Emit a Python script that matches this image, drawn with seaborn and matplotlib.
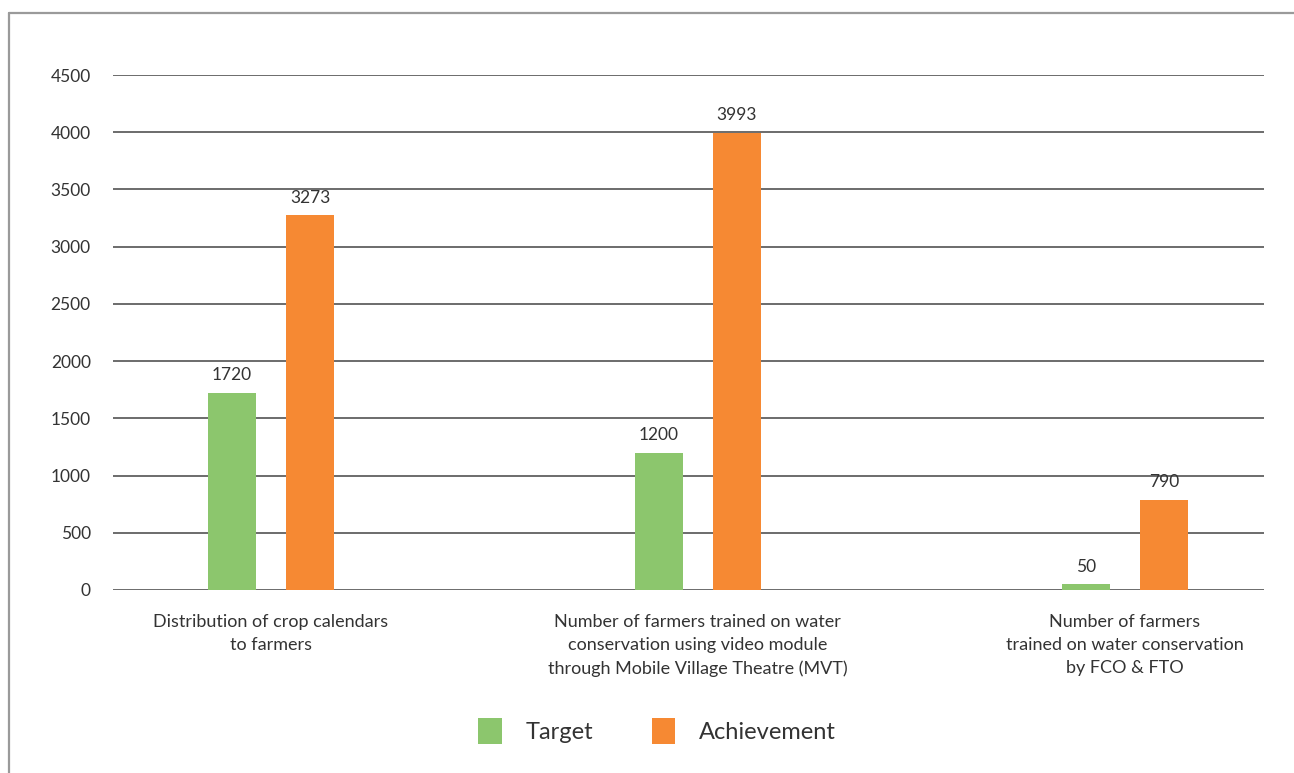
import matplotlib
matplotlib.use("Agg")
import matplotlib.pyplot as plt
from matplotlib.lines import Line2D
from matplotlib.patches import Patch
import seaborn as sns
import pandas as pd

categories = [
    "Distribution of crop calendars\nto farmers",
    "Number of farmers trained on water\nconservation using video module\nthrough Mobile Village Theatre (MVT)",
    "Number of farmers\ntrained on water conservation\nby FCO & FTO",
]
series_names = ["Target", "Achievement"]
target = [1720, 1200, 50]
achievement = [3273, 3993, 790]
yticks = [0, 500, 1000, 1500, 2000, 2500, 3000, 3500, 4000, 4500]
colors = ["#8CC66D", "#F68933"]

df = pd.DataFrame({
    "category": categories * 2,
    "series": [series_names[0]] * 3 + [series_names[1]] * 3,
    "value": target + achievement,
})

sns.set_theme(style="white")
plt.rcParams["font.family"] = ["Lato", "DejaVu Sans"]
text_color = "#333333"

fig = plt.figure(figsize=(12.94, 7.73), dpi=100)
ax = fig.add_axes([113 / 1294, 1 - 590 / 773, (1264 - 113) / 1294, (590 - 75) / 773])

sns.barplot(data=df, x="category", y="value", hue="series", order=categories,
            hue_order=series_names, palette=colors, width=0.366, gap=0.39,
            saturation=1, legend=False, ax=ax, errorbar=None, linewidth=0)

ax.set_ylim(0, 4500)
ax.set_xlim(-0.37, 2.326)
ax.set_yticks(yticks)
ax.set_yticklabels([str(v) for v in yticks], fontsize=12.5, color=text_color)
ax.tick_params(axis="y", length=0, pad=16)
ax.tick_params(axis="x", length=0, pad=17)
ax.set_xticks(range(len(categories)))
ax.set_xticklabels(categories, fontsize=13, color=text_color,
                   linespacing=1.55, va="top")
ax.set_xlabel("")
ax.set_ylabel("")
for s in ax.spines.values():
    s.set_visible(False)
ax.yaxis.grid(True, color="#444444", linewidth=1.1)
ax.set_axisbelow(True)

for cont in ax.containers:
    ax.bar_label(cont, labels=[str(int(v)) for v in cont.datavalues], padding=7,
                 fontsize=12.5, color=text_color)

handles = [Patch(facecolor=c, edgecolor="none") for c in colors]
fig.legend(handles, series_names, loc="center", bbox_to_anchor=(657 / 1294, 1 - 731 / 773),
           ncol=2, frameon=False, handlelength=1.0, handleheight=1.3,
           handletextpad=1.0, columnspacing=2.5, labelcolor=text_color,
           prop={"size": 17})

fig.add_artist(Line2D([8.5 / 1294, 8.5 / 1294], [0, 1 - 12.5 / 773],
                      color="#9a9a9a", linewidth=1.6, transform=fig.transFigure))
fig.add_artist(Line2D([8.5 / 1294, 1], [1 - 12.5 / 773, 1 - 12.5 / 773],
                      color="#9a9a9a", linewidth=1.6, transform=fig.transFigure))

fig.savefig("out.png", dpi=100)
